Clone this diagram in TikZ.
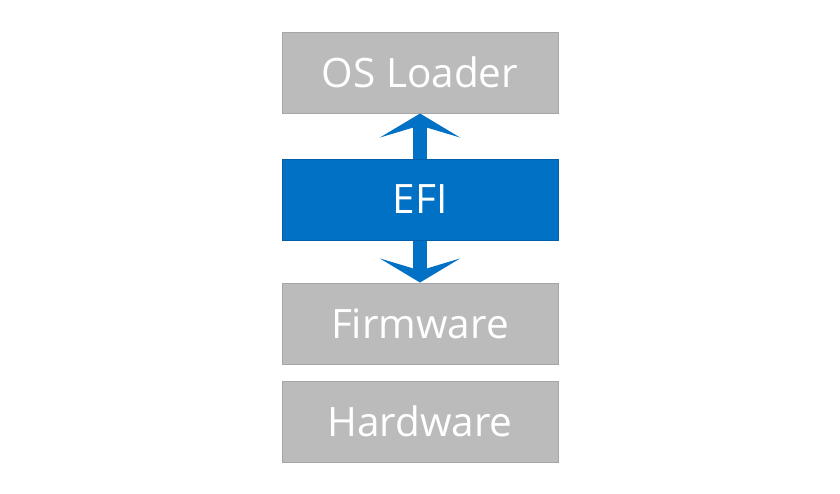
\documentclass[tikz,border=0pt]{standalone}
\usepackage{fontspec}
\setmainfont{Open Sans}
\usetikzlibrary{arrows.meta, positioning}
\definecolor{layergray}{HTML}{BBBBBB}
\definecolor{layeredge}{HTML}{A6A6A6}
\definecolor{efiblue}{HTML}{0071C5}
\definecolor{efiedge}{HTML}{005FA8}

\begin{document}
\begin{tikzpicture}[
        x=1pt, y=-1pt,
        layer/.style={rectangle, fill=layergray, draw=layeredge, line width=1pt,
                      minimum width=276pt, minimum height=81pt, inner sep=0pt,
                      text=white, font=\fontsize{40.5}{44}\selectfont},
        efilayer/.style={layer, fill=efiblue, draw=efiedge},
        flow/.style={draw=efiblue, line width=14pt,
                     -{Stealth[length=24pt, width=80pt, inset=12pt]}}
    ]
    \useasboundingbox (0,0) rectangle (840,493);
    \node [layer] (osload) at (420,72.5) {OS Loader};
    \node [efilayer, below=45pt of osload] (efi) {EFI};
    \node [layer, below=42pt of efi] (firm) {Firmware};
    \node [layer, below=16pt of firm] (hard) {Hardware};
    \draw[flow] (efi) -- (osload);
    \draw[flow] (efi) -- (firm);
  \end{tikzpicture}
\end{document}
